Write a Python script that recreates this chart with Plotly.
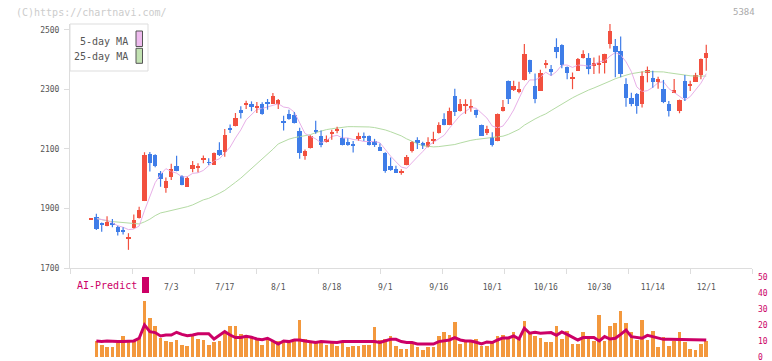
import plotly.graph_objects as go

# ---------------- data ----------------
opens = [1862, 1870, 1851, 1842, 1851, 1838, 1827, 1798, 1834, 1868,
         1926, 2083, 2080, 2020, 1970, 2007, 2043, 2009, 1973, 2034,
         2038, 2065, 2056, 2047, 2097, 2091, 2171, 2178, 2231, 2248,
         2252, 2241, 2251, 2256, 2252, 2252, 2192, 2218, 2213, 2162,
         2078, 2103, 2162, 2145, 2123, 2153, 2161, 2138, 2122, 2115,
         2134, 2143, 2144, 2127, 2108, 2088, 2043, 2032, 2018, 2046,
         2094, 2130, 2119, 2108, 2130, 2153, 2201, 2181, 2279, 2228,
         2245, 2239, 2231, 2181, 2155, 2141, 2127, 2228, 2329, 2298,
         2293, 2332, 2399, 2312, 2296, 2383, 2370, 2442, 2450, 2375,
         2334, 2363, 2405, 2407, 2382, 2383, 2390, 2452, 2446, 2429,
         2318, 2272, 2285, 2251, 2357, 2340, 2326, 2302, 2251, 2289,
         2229, 2329, 2310, 2326, 2347, 2407]
highs = [1866, 1882, 1853, 1874, 1865, 1842, 1837, 1817, 1880, 1906,
         2089, 2090, 2082, 2026, 2004, 2050, 2077, 2012, 2007, 2060,
         2052, 2078, 2069, 2088, 2123, 2167, 2182, 2221, 2244, 2262,
         2260, 2258, 2257, 2268, 2288, 2268, 2212, 2232, 2224, 2171,
         2098, 2146, 2195, 2162, 2145, 2165, 2175, 2167, 2136, 2127,
         2155, 2155, 2145, 2134, 2118, 2089, 2071, 2044, 2032, 2080,
         2126, 2139, 2124, 2139, 2158, 2190, 2220, 2239, 2302, 2268,
         2267, 2267, 2233, 2182, 2178, 2156, 2219, 2265, 2330, 2329,
         2326, 2453, 2400, 2354, 2366, 2399, 2382, 2472, 2452, 2377,
         2357, 2406, 2432, 2422, 2407, 2414, 2420, 2520, 2470, 2478,
         2338, 2289, 2288, 2360, 2377, 2363, 2343, 2332, 2261, 2335,
         2266, 2349, 2329, 2356, 2404, 2450]
lows = [1861, 1828, 1822, 1840, 1837, 1809, 1813, 1761, 1833, 1866,
        1925, 2024, 2039, 1973, 1953, 1996, 2025, 1978, 1972, 2022,
        2022, 2052, 2046, 2046, 2076, 2074, 2154, 2176, 2202, 2234,
        2227, 2221, 2215, 2232, 2251, 2234, 2162, 2198, 2186, 2067,
        2064, 2102, 2151, 2106, 2122, 2131, 2153, 2112, 2111, 2088,
        2128, 2127, 2112, 2107, 2093, 2020, 2027, 2019, 2013, 2045,
        2088, 2100, 2100, 2105, 2117, 2152, 2180, 2180, 2211, 2226,
        2218, 2225, 2205, 2144, 2147, 2108, 2126, 2226, 2251, 2295,
        2287, 2330, 2353, 2254, 2295, 2371, 2347, 2405, 2371, 2334,
        2301, 2362, 2404, 2351, 2352, 2354, 2354, 2438, 2341, 2341,
        2242, 2244, 2218, 2239, 2324, 2306, 2302, 2254, 2209, 2288,
        2220, 2261, 2295, 2325, 2334, 2363]
closes = [1865, 1832, 1843, 1855, 1843, 1822, 1824, 1803, 1863, 1895,
          2080, 2052, 2044, 2000, 1992, 2033, 2027, 1980, 2004, 2046,
          2041, 2071, 2053, 2087, 2081, 2147, 2164, 2204, 2222, 2252,
          2241, 2246, 2218, 2253, 2279, 2265, 2189, 2202, 2187, 2087,
          2094, 2145, 2159, 2115, 2134, 2157, 2165, 2113, 2114, 2112,
          2144, 2140, 2114, 2114, 2094, 2027, 2029, 2020, 2027, 2074,
          2125, 2119, 2110, 2125, 2133, 2181, 2181, 2228, 2225, 2250,
          2248, 2246, 2214, 2145, 2166, 2113, 2218, 2242, 2268, 2312,
          2301, 2419, 2360, 2268, 2357, 2386, 2360, 2427, 2382, 2357,
          2343, 2403, 2419, 2369, 2388, 2387, 2419, 2497, 2427, 2352,
          2272, 2251, 2245, 2345, 2366, 2326, 2335, 2259, 2228, 2297,
          2265, 2270, 2318, 2349, 2403, 2424]

ma5 = [None, 1866, 1862, 1860, 1852, 1842, 1837, 1829, 1831, 1841,
       1893, 1939, 1987, 2014, 2034, 2024, 2019, 2006, 2007, 2018,
       2020, 2028, 2043, 2060, 2067, 2088, 2106, 2137, 2164, 2198,
       2217, 2233, 2236, 2242, 2247, 2252, 2241, 2238, 2224, 2186,
       2152, 2143, 2134, 2120, 2129, 2142, 2146, 2137, 2137, 2132,
       2130, 2125, 2125, 2125, 2121, 2098, 2076, 2057, 2039, 2035,
       2055, 2073, 2091, 2111, 2122, 2134, 2146, 2170, 2190, 2213,
       2226, 2239, 2237, 2221, 2204, 2177, 2171, 2177, 2201, 2231,
       2268, 2308, 2332, 2332, 2341, 2358, 2346, 2360, 2382, 2382,
       2374, 2382, 2381, 2378, 2384, 2393, 2396, 2412, 2424, 2416,
       2393, 2360, 2309, 2293, 2296, 2307, 2323, 2326, 2303, 2289,
       2277, 2264, 2276, 2300, 2321, 2353]
ma25 = [None, 1867, 1862, 1858, 1856, 1854, 1852, 1850, 1849, 1848,
        1855, 1864, 1876, 1885, 1889, 1893, 1897, 1901, 1906, 1912,
        1920, 1929, 1934, 1942, 1951, 1961, 1973, 1988, 2002, 2018,
        2034, 2050, 2065, 2081, 2099, 2117, 2126, 2133, 2138, 2141,
        2145, 2148, 2155, 2161, 2165, 2168, 2171, 2174, 2175, 2175,
        2175, 2175, 2174, 2172, 2169, 2164, 2158, 2152, 2144, 2134,
        2125, 2118, 2111, 2108, 2107, 2108, 2110, 2112, 2115, 2120,
        2125, 2129, 2132, 2134, 2136, 2137, 2139, 2143, 2149, 2157,
        2166, 2180, 2192, 2201, 2210, 2218, 2229, 2240, 2251, 2262,
        2272, 2281, 2290, 2298, 2305, 2312, 2320, 2328, 2336, 2343,
        2348, 2353, 2357, 2359, 2360, 2360, 2360, 2359, 2356, 2353,
        2350, 2348, 2346, 2345, 2345, 2345]

volume = [None, 10.0, 7.9, 6.2, 6.6, 9.0, 13.5, 10.0, 10.0, 12.1,
          35.3, 24.5, 19.3, 12.1, 10.0, 9.4, 10.6, 7.9, 6.8, 13.1,
          11.6, 11.0, 7.9, 9.4, 10.0, 15.6, 19.7, 19.3, 14.7, 13.5,
          12.1, 11.0, 7.9, 11.0, 10.0, 10.4, 9.4, 9.0, 11.0, 23.5,
          11.6, 10.0, 9.0, 10.0, 7.9, 10.4, 6.8, 9.0, 6.2, 7.3,
          7.3, 7.9, 7.9, 18.9, 11.0, 11.4, 13.1, 6.8, 5.4, 5.4,
          8.2, 6.2, 4.8, 6.4, 6.2, 13.5, 16.0, 14.1, 22.2, 8.5,
          9.4, 9.4, 11.6, 7.3, 7.3, 9.4, 13.5, 14.1, 11.6, 16.0,
          11.4, 22.8, 15.6, 13.5, 12.1, 9.4, 9.4, 19.7, 11.6, 16.6,
          8.5, 8.5, 15.6, 12.1, 10.0, 26.1, 10.4, 19.7, 21.2, 29.1,
          21.2, 15.6, 11.0, 23.5, 11.0, 16.6, 6.6, 12.9, 7.3, 10.0,
          16.0, 9.4, 5.4, 4.4, 8.5, 10.0]
ai_predict = [None, 10.4, 10.0, 10.4, 10.0, 10.0, 10.0, 10.4, 10.4, 12.1,
              20.4, 16.2, 15.6, 13.5, 14.1, 14.1, 15.8, 14.5, 13.7, 14.1,
              14.9, 14.9, 14.9, 11.6, 13.9, 16.2, 14.1, 12.5, 12.5, 13.3,
              12.7, 11.6, 11.2, 12.1, 10.4, 8.5, 10.4, 10.0, 11.0, 11.0,
              10.4, 9.8, 9.4, 10.0, 10.0, 9.6, 9.4, 10.0, 10.0, 10.0,
              10.0, 10.0, 10.0, 10.0, 9.4, 10.6, 11.4, 11.4, 10.0, 9.4,
              9.4, 8.5, 8.5, 8.5, 8.5, 10.0, 10.4, 11.0, 12.5, 11.0,
              10.4, 10.4, 9.6, 8.5, 9.8, 9.4, 11.0, 12.3, 12.3, 13.5,
              11.6, 18.3, 15.2, 15.8, 15.2, 15.2, 15.6, 13.9, 16.0, 14.5,
              12.5, 11.0, 12.5, 12.5, 12.5, 10.4, 13.1, 11.6, 12.1, 14.5,
              17.2, 13.1, 12.5, 12.1, 13.9, 13.1, 12.1, 11.4, 11.4, 11.4,
              11.4, 11.0, 11.0, 11.4, 11.0, 11.0]

tick_labels = ["7/3", "7/17", "8/1", "8/18", "9/1", "9/16",
               "10/1", "10/16", "10/30", "11/14", "12/1"]
tick_index = [15, 25, 35, 45, 55, 65, 75, 85, 95, 105, 115]
price_ticks = [1700, 1900, 2100, 2300, 2500]
right_ticks = [0, 10, 20, 30, 40, 50]

# ---------------- styling ----------------
UP = "#f2503f"
DOWN = "#3f7de8"
PINK = "#e8b0e8"
GREEN = "#b4dba4"
ORANGE = "#f3983d"
CRIMSON = "#cc0066"
AXIS = "#dddddd"
MONO = "DejaVu Sans Mono"

W, H = 772, 361
L_M, R_M = 70, 20
PW = W - L_M - R_M

def py(px):  # pixel row -> paper y
    return 1 - px / H

def pxx(px):  # pixel column -> paper x
    return (px - L_M) / PW

n = len(closes)
idx = list(range(n))
x_range = [-3.925, 123.55]
grid_vals = [x_range[0] + k * (x_range[1] - x_range[0]) / 11 for k in range(12)]
grid_vals[-1] -= 1e-6

fig = go.Figure()

# moving averages (behind candles)
fig.add_trace(go.Scatter(x=idx, y=ma25, mode="lines", line=dict(color=GREEN, width=1),
                         hoverinfo="skip", showlegend=False))
fig.add_trace(go.Scatter(x=idx, y=ma5, mode="lines", line=dict(color=PINK, width=1),
                         hoverinfo="skip", showlegend=False))

# wicks
for up in (True, False):
    wx, wy = [], []
    for i in idx:
        if (closes[i] >= opens[i]) == up:
            wx += [i, i, None]
            wy += [lows[i], highs[i], None]
    fig.add_trace(go.Scatter(x=wx, y=wy, mode="lines",
                             line=dict(color=UP if up else DOWN, width=1.2),
                             hoverinfo="skip", showlegend=False))

# bodies
body_base = [min(o, c) for o, c in zip(opens, closes)]
body_h = [max(abs(c - o), 3) for o, c in zip(opens, closes)]
body_col = [UP if c >= o else DOWN for o, c in zip(opens, closes)]
fig.add_trace(go.Bar(x=idx, y=body_h, base=body_base, width=0.82,
                     marker=dict(color=body_col, line=dict(width=0)),
                     hoverinfo="skip", showlegend=False))

# lower panel
fig.add_trace(go.Bar(x=idx, y=volume, width=0.68, marker=dict(color=ORANGE, line=dict(width=0)),
                     xaxis="x2", yaxis="y2", hoverinfo="skip", showlegend=False))
fig.add_trace(go.Scatter(x=idx, y=ai_predict, mode="lines", line=dict(color=CRIMSON, width=3),
                         xaxis="x2", yaxis="y2", hoverinfo="skip", showlegend=False))

fig.update_layout(
    width=W, height=H,
    margin=dict(l=L_M, r=R_M, t=0, b=0, pad=0, autoexpand=False),
    paper_bgcolor="white", plot_bgcolor="white",
    barmode="overlay", bargap=0,
    font=dict(family=MONO, size=10, color="#555555"),
    xaxis=dict(domain=[0, 1], anchor="y", range=x_range, showline=True, linecolor=AXIS,
               linewidth=1, ticks="outside", ticklen=5, tickcolor=AXIS, tickwidth=1,
               tickmode="array", tickvals=grid_vals, showticklabels=False,
               showgrid=False, zeroline=False, automargin=False),
    yaxis=dict(domain=[py(268), py(24)], anchor="x", range=[1700, 2520], showline=True,
               linecolor=AXIS, linewidth=1, ticks="outside", ticklen=5, tickcolor=AXIS,
               tickmode="array", tickvals=price_ticks, ticktext=[str(v) for v in price_ticks],
               tickfont=dict(family=MONO, size=8, color="#555555"), ticklabelstandoff=3,
               ticklabeloverflow="allow",
               showgrid=False, zeroline=False, automargin=False),
    xaxis2=dict(domain=[0, 1], anchor="y2", range=x_range, side="top",
                ticklabelposition="inside", ticks="", tickmode="array",
                tickvals=tick_index, ticktext=tick_labels, ticklabelstandoff=4,
                ticklabeloverflow="allow",
                tickfont=dict(family=MONO, size=8, color="#555555"),
                showline=False, showgrid=False, zeroline=False, automargin=False),
    yaxis2=dict(domain=[py(357.7), py(277.3)], anchor="x2", range=[-0.02, 50.02], side="right",
                ticks="", tickmode="array", tickvals=right_ticks, ticklabelstandoff=5,
                ticklabeloverflow="allow",
                tickfont=dict(family=MONO, size=8, color=CRIMSON),
                showline=False, showgrid=False, zeroline=False, automargin=False),
)

shapes = [
    dict(type="rect", xref="paper", yref="paper", x0=pxx(70), x1=pxx(148), y0=py(71), y1=py(24),
         line=dict(color=AXIS, width=1), fillcolor="white", layer="above"),
    dict(type="rect", xref="paper", yref="paper", x0=pxx(136), x1=pxx(142.5), y0=py(46.5), y1=py(31),
         line=dict(color="#555555", width=1), fillcolor="#eebbee", layer="above"),
    dict(type="rect", xref="paper", yref="paper", x0=pxx(136), x1=pxx(142.5), y0=py(63.3), y1=py(48.3),
         line=dict(color="#555555", width=1), fillcolor="#c2e2b2", layer="above"),
    dict(type="rect", xref="paper", yref="paper", x0=pxx(142), x1=pxx(149), y0=py(293), y1=py(277),
         line=dict(width=0), fillcolor=CRIMSON, layer="above"),
]
fig.update_layout(shapes=shapes)

annotations = [
    dict(text="(C)https://chartnavi.com/", xref="paper", yref="paper", x=pxx(14), y=py(12),
         xanchor="left", yanchor="middle", showarrow=False,
         font=dict(family=MONO, size=10, color="#cccccc")),
    dict(text="5384", xref="paper", yref="paper", x=pxx(757), y=py(12),
         xanchor="right", yanchor="middle", showarrow=False,
         font=dict(family=MONO, size=9, color="#aaaaaa")),
    dict(text="5-day MA", xref="paper", yref="paper", x=pxx(130), y=py(41),
         xanchor="right", yanchor="middle", showarrow=False,
         font=dict(family=MONO, size=10, color="#555555")),
    dict(text="25-day MA", xref="paper", yref="paper", x=pxx(130), y=py(56.5),
         xanchor="right", yanchor="middle", showarrow=False,
         font=dict(family=MONO, size=10, color="#555555")),
    dict(text="AI-Predict", xref="paper", yref="paper", x=pxx(75), y=py(285.5),
         xanchor="left", yanchor="middle", showarrow=False,
         font=dict(family=MONO, size=10, color=CRIMSON)),
]
fig.update_layout(annotations=annotations)

fig.write_html("out.html", config={"displayModeBar": False},
               post_script="document.body.style.margin='0';document.body.style.padding='0';")
